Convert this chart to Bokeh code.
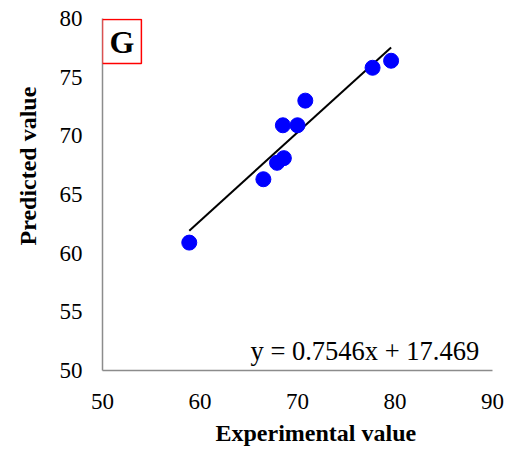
from bokeh.plotting import figure
from bokeh.models import Range1d, FixedTicker, Label, Title
from bokeh.embed import file_html
from bokeh.resources import INLINE

experimental = [58.9, 66.5, 67.9, 68.6, 68.5, 70.0, 70.8, 77.7, 79.6]
predicted = [60.9, 66.3, 67.7, 68.1, 70.9, 70.9, 73.0, 75.8, 76.4]
slope = 0.7546
intercept = 17.469
x_ticks = [50, 60, 70, 80, 90]
y_ticks = [50, 55, 60, 65, 70, 75, 80]
equation = "y = 0.7546x + 17.469"
panel = "G"
x_title = "Experimental value"
y_title = "Predicted value"

FONT = "Liberation Serif"

p = figure(width=512, height=452, output_backend="svg", toolbar_location=None,
           x_range=Range1d(50, 90), y_range=Range1d(50, 80),
           frame_width=390, frame_height=352,
           min_border_left=100, min_border_top=18, min_border_right=22, min_border_bottom=82)
p.outline_line_color = None
p.grid.visible = False
p.background_fill_color = "white"

for ax in (p.xaxis[0], p.yaxis[0]):
    ax.axis_line_color = "#8c8c8c"
    ax.axis_line_width = 1.5
    ax.major_tick_line_color = None
    ax.minor_tick_line_color = None
    ax.major_tick_out = 0
    ax.major_tick_in = 0
    ax.major_label_text_font = FONT
    ax.major_label_text_font_size = "23px"
    ax.major_label_text_color = "black"

p.xaxis[0].ticker = FixedTicker(ticks=x_ticks)
p.yaxis[0].ticker = FixedTicker(ticks=y_ticks)
p.xaxis[0].major_label_standoff = 23
p.yaxis[0].major_label_standoff = 20

p.add_layout(Title(text=x_title, text_font=FONT, text_font_size="24px", text_font_style="bold",
                   text_color="black", align="left", offset=113, standoff=12), "below")
p.add_layout(Title(text=y_title, text_font=FONT, text_font_size="24px", text_font_style="bold",
                   text_color="black", align="left", offset=125, standoff=28,
                   vertical_align="top"), "left")

# trend line from equation across data extent
x0, x1 = min(experimental), max(experimental)
p.line([x0, x1], [slope * x0 + intercept, slope * x1 + intercept], line_color="black", line_width=2)

p.scatter(experimental, predicted, size=15, fill_color="#0000FF", line_color="#0000FF")

p.add_layout(Label(x=65.18, y=51.7, text=equation, text_font=FONT, text_font_size="26.5px",
                   text_baseline="middle", text_align="left", text_color="black"))

p.add_layout(Label(x=50, y=80, text=panel, text_font=FONT, text_font_size="32px",
                   text_font_style="bold", text_align="left", text_baseline="top",
                   x_offset=0, y_offset=-1, text_color="black",
                   border_line_color="red", border_line_width=1.5,
                   background_fill_color="white",
                   padding=dict(left=7, right=7, top=4, bottom=4)))

open("out.html", "w").write(file_html(p, INLINE))
